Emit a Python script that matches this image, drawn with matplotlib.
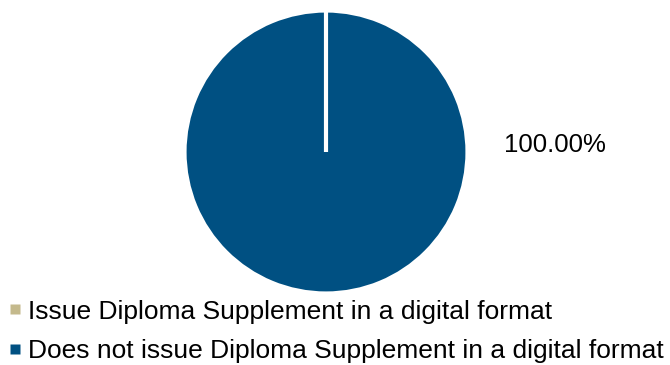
import matplotlib
matplotlib.use("Agg")
import matplotlib.pyplot as plt
from matplotlib.lines import Line2D

categories = ["Issue Diploma Supplement in a digital format",
              "Does not issue Diploma Supplement in a digital format"]
values = [0.0, 100.0]
colors = ["#C4B98C", "#005082"]

plt.rcParams['font.family'] = ['Liberation Sans', 'DejaVu Sans']

fig = plt.figure(figsize=(6.7, 3.65), dpi=100)
W, H = 670, 365
cx, cy, R = 326, 152, 141.5
ax = fig.add_axes([(cx - R) / W, (H - cy - R) / H, 2 * R / W, 2 * R / H])
wedges, _ = ax.pie(values, colors=colors, startangle=90, counterclock=False,
                   wedgeprops=dict(edgecolor="white", linewidth=3), radius=1.0)
wedges[0].set_zorder(5)
ax.set_xlim(-1, 1)
ax.set_ylim(-1, 1)
ax.set_aspect("equal")
ax.axis("off")

total = sum(values)
ax.text(1.62, 0.05, f"{values[1] / total * 100:.2f}%", fontsize=18.5,
        ha="center", va="center", color="black")

handles = [Line2D([], [], marker="s", linestyle="none", markersize=7,
                  markerfacecolor=c, markeredgecolor="none") for c in colors]
leg = fig.legend(handles, categories, loc="lower left", bbox_to_anchor=(0.005, -0.01),
                 frameon=False, fontsize=19, handlelength=0.45,
                 handletextpad=0.29, labelspacing=0.6, borderaxespad=0.0,
                 borderpad=0.2)

fig.savefig("out.png", dpi=100)
